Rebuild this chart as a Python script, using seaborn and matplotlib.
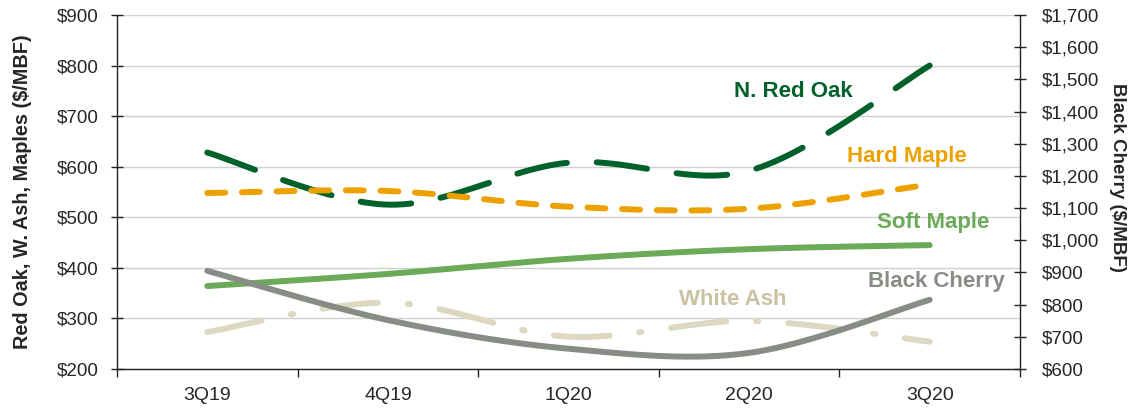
import numpy as np
import pandas as pd
import matplotlib
matplotlib.use("Agg")
import matplotlib.pyplot as plt
import seaborn as sns

# Quarterly hardwood lumber prices ($/MBF)
quarters = ["3Q19", "4Q19", "1Q20", "2Q20", "3Q20"]
red_oak = [628, 525, 608, 592, 800]
hard_maple = [548, 552, 521, 517, 565]
soft_maple = [364, 388, 418, 437, 445]
white_ash = [273, 331, 264, 295, 254]
black_cherry = [905, 752, 663, 650, 815]

left_ticks = [200, 300, 400, 500, 600, 700, 800, 900]
right_ticks = list(range(600, 1701, 100))


def smooth(values, n=60):
    """Bezier smoothing through every point (as in spreadsheet 'smoothed line')."""
    x = np.arange(len(values), dtype=float)
    y = np.asarray(values, dtype=float)
    px = np.concatenate([[x[0]], x, [x[-1]]])
    py = np.concatenate([[y[0]], y, [y[-1]]])
    xs, ys = [], []
    t = np.linspace(0, 1, n)
    for i in range(len(values) - 1):
        p0 = np.array([px[i + 1], py[i + 1]])
        p3 = np.array([px[i + 2], py[i + 2]])
        p1 = p0 + (np.array([px[i + 2], py[i + 2]]) - np.array([px[i], py[i]])) / 6
        p2 = p3 - (np.array([px[i + 3], py[i + 3]]) - np.array([px[i + 1], py[i + 1]])) / 6
        b = ((1 - t) ** 3)[:, None] * p0 + (3 * (1 - t) ** 2 * t)[:, None] * p1 \
            + (3 * (1 - t) * t ** 2)[:, None] * p2 + (t ** 3)[:, None] * p3
        if i > 0:
            b = b[1:]
        xs.append(b[:, 0])
        ys.append(b[:, 1])
    return pd.DataFrame({"x": np.concatenate(xs), "y": np.concatenate(ys)})


sns.set_theme(style="white")
plt.rcParams["font.family"] = ["Liberation Sans", "DejaVu Sans"]

fig = plt.figure(figsize=(11.38, 4.11), dpi=100)
ax = fig.add_axes([0.1028, 0.1022, 0.7935, 0.8613])
ax2 = ax.twinx()

lw = 4.3
c_oak = "#00612B"
c_hard = "#EDA100"
c_soft = "#6AAA58"
c_ash = "#DDD8C2"
c_cherry = "#878D85"

series = [
    (ax, red_oak, c_oak, (0, (8.5, 5))),
    (ax, hard_maple, c_hard, (0, (3.0, 2.8))),
    (ax, soft_maple, c_soft, "solid"),
    (ax, white_ash, c_ash, (0, (9.3, 5.0, 0.4, 5.0))),
]
for target, vals, color, ls in series:
    df = smooth(vals)
    sns.lineplot(data=df, x="x", y="y", ax=target, sort=False, color=color,
                 linewidth=lw, linestyle=ls, solid_capstyle="round",
                 dash_capstyle="round", estimator=None)

df = smooth(black_cherry)
sns.lineplot(data=df, x="x", y="y", ax=ax2, sort=False, color=c_cherry,
             linewidth=lw, solid_capstyle="round", estimator=None)

# Axes ranges and ticks
ax.set_xlim(-0.5, 4.5)
ax.set_ylim(200, 900)
ax2.set_ylim(600, 1700)
ax.set_yticks(left_ticks)
ax.set_yticklabels([f"${v:,}" for v in left_ticks])
ax2.set_yticks(right_ticks)
ax2.set_yticklabels([f"${v:,}" for v in right_ticks])
ax.set_xticks(range(len(quarters)))
ax.set_xticklabels(quarters)
ax.set_xticks(np.arange(-0.5, 4.6, 1.0), minor=True)

ax.grid(axis="y", color="#D0D0D0", linewidth=1.0)
ax.set_axisbelow(True)
ax.set_xlabel("")
ax.set_ylabel("Red Oak, W. Ash, Maples ($/MBF)", fontsize=14.3, fontweight="bold")
ax.yaxis.set_label_coords(-0.094, 0.5)
ax2.set_xlabel("")
ax2.set_ylabel("Black Cherry ($/MBF)", fontsize=13.5, fontweight="bold",
               rotation=270, va="center")
ax2.yaxis.set_label_coords(1.108, 0.54)

tick_color = "#222222"
ax.tick_params(axis="y", which="major", direction="inout", length=9, width=1,
               color=tick_color, labelsize=13.5, pad=9, left=True)
ax2.tick_params(axis="y", which="major", direction="inout", length=9, width=1,
                color=tick_color, labelsize=13.5, pad=11, right=True)
ax.tick_params(axis="x", which="major", length=0, labelsize=14, pad=13)
ax.tick_params(axis="x", which="minor", direction="out", length=6, width=1,
               color=tick_color, bottom=True)

for a in (ax, ax2):
    for side in ("top", "left", "right", "bottom"):
        a.spines[side].set_visible(False)
ax.spines["left"].set_visible(True)
ax.spines["bottom"].set_visible(True)
ax2.spines["right"].set_visible(True)
for s in ("left", "bottom"):
    ax.spines[s].set_color(tick_color)
    ax.spines[s].set_linewidth(1)
ax2.spines["right"].set_color(tick_color)
ax2.spines["right"].set_linewidth(1)

# Series labels
lab = dict(fontsize=16, fontweight="bold", ha="center", va="center")
ax.text(3.245, 748, "N. Red Oak", color=c_oak, **lab)
ax.text(3.876, 621, "Hard Maple", color=c_hard, **lab)
ax.text(4.02, 489, "Soft Maple", color=c_soft, **lab)
ax.text(2.907, 337, "White Ash", color="#C9C1A0", **lab)
ax.text(4.04, 374, "Black Cherry", color=c_cherry, **lab)

fig.savefig("out.png", dpi=100)
